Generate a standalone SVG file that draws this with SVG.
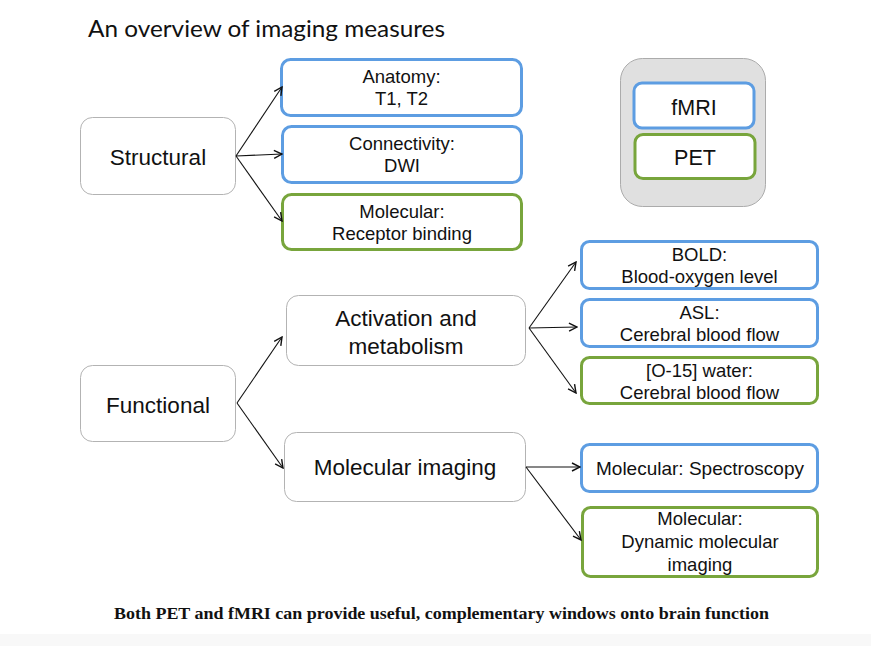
<svg xmlns="http://www.w3.org/2000/svg" width="871" height="646" viewBox="0 0 871 646">
<defs>
<marker id="arr" viewBox="0 0 10 10" refX="9" refY="5" markerWidth="10" markerHeight="10" markerUnits="userSpaceOnUse" orient="auto">
<path d="M1,1 L9,5 L1,9" fill="none" stroke="#111" stroke-width="1.4"/>
</marker>
</defs>
<style>
.n{fill:#fff;stroke:#b3b3b3;stroke-width:1}
.b{fill:#fff;stroke:#5d9de2;stroke-width:3}
.g{fill:#fff;stroke:#78a53c;stroke-width:3}
.t{font-family:"Liberation Sans",Arial,sans-serif;fill:#111;text-anchor:middle}
.big{font-size:22.5px}
.sm{font-size:18.5px}
.c{fill:none;stroke:#111;stroke-width:1.1;marker-end:url(#arr)}
</style>
<rect x="0" y="0" width="871" height="646" fill="#fff"/>
<rect x="0" y="634" width="871" height="12" fill="#f8f8f8"/>
<text x="88" y="37" font-family="Lato,'Open Sans',sans-serif" font-size="23" fill="#111" textLength="357" lengthAdjust="spacingAndGlyphs">An overview of imaging measures</text>

<g id="structural"><rect class="n" x="80.5" y="117.5" width="155" height="77" rx="12"/><text class="t big" x="158" y="165">Structural</text></g>
<g id="anatomy"><rect class="b" x="281.5" y="59.5" width="240" height="56" rx="9"/><text class="t sm" x="401.5" y="83">Anatomy:</text><text class="t sm" x="401.5" y="105">T1, T2</text></g>
<g id="connectivity"><rect class="b" x="282.5" y="126.5" width="239" height="56" rx="9"/><text class="t sm" x="402" y="150">Connectivity:</text><text class="t sm" x="402" y="172">DWI</text></g>
<g id="molecular"><rect class="g" x="282.5" y="194.5" width="239" height="55" rx="9"/><text class="t sm" x="402" y="218">Molecular:</text><text class="t sm" x="402" y="240">Receptor binding</text></g>

<g id="legend"><rect x="620.5" y="58.5" width="145" height="148" rx="22" fill="#e0e0e0" stroke="#ababab" stroke-width="1"/></g>
<g id="fmri"><rect class="b" x="634" y="83" width="120" height="45" rx="8"/><text class="t" x="694" y="115" font-size="21.5">fMRI</text></g>
<g id="pet"><rect class="g" x="635" y="134.5" width="120" height="44" rx="8"/><text class="t" x="695" y="165" font-size="21.5">PET</text></g>

<g id="functional"><rect class="n" x="80.5" y="365.5" width="155" height="76" rx="12"/><text class="t big" x="158" y="413">Functional</text></g>
<g id="activation"><rect class="n" x="286.5" y="295.5" width="239" height="70" rx="12"/><text class="t big" x="406" y="326">Activation and</text><text class="t big" x="406" y="354">metabolism</text></g>
<g id="molimaging"><rect class="n" x="284.5" y="432.5" width="241" height="69" rx="12"/><text class="t big" x="405" y="475">Molecular imaging</text></g>

<g id="bold"><rect class="b" x="581.5" y="241.5" width="236" height="47" rx="8"/><text class="t sm" x="699.5" y="261">BOLD:</text><text class="t sm" x="699.5" y="283">Blood-oxygen level</text></g>
<g id="asl"><rect class="b" x="581.5" y="299.5" width="236" height="47" rx="8"/><text class="t sm" x="699.5" y="319">ASL:</text><text class="t sm" x="699.5" y="341">Cerebral blood flow</text></g>
<g id="o15"><rect class="g" x="581.5" y="357.5" width="236" height="46" rx="8"/><text class="t sm" x="699.5" y="377">[O-15] water:</text><text class="t sm" x="699.5" y="399">Cerebral blood flow</text></g>
<g id="spectroscopy"><rect class="b" x="581.5" y="444.5" width="236" height="47" rx="8"/><text class="t sm" x="700" y="475" textLength="208" lengthAdjust="spacingAndGlyphs">Molecular: Spectroscopy</text></g>
<g id="dynamic"><rect class="g" x="582.5" y="507.5" width="235" height="69" rx="8"/><text class="t sm" x="700" y="525">Molecular:</text><text class="t sm" x="700" y="548">Dynamic molecular</text><text class="t sm" x="700" y="571">imaging</text></g>

<g id="connectors">
<line class="c" x1="236" y1="156" x2="282" y2="87"/>
<line class="c" x1="236" y1="156" x2="282" y2="154"/>
<line class="c" x1="236" y1="156" x2="282" y2="221"/>
<line class="c" x1="237" y1="403" x2="282" y2="337"/>
<line class="c" x1="237" y1="403" x2="283" y2="468"/>
<line class="c" x1="529" y1="328" x2="576" y2="262"/>
<line class="c" x1="529" y1="328" x2="577" y2="327"/>
<line class="c" x1="529" y1="328" x2="576" y2="393"/>
<line class="c" x1="526" y1="467" x2="580" y2="467"/>
<line class="c" x1="526" y1="467" x2="581" y2="540"/>
</g>

<text x="114" y="619" font-family="'Liberation Serif','Times New Roman',serif" font-weight="bold" font-size="17.5" fill="#111" textLength="655" lengthAdjust="spacingAndGlyphs">Both PET and fMRI can provide useful, complementary windows onto brain function</text>
</svg>
